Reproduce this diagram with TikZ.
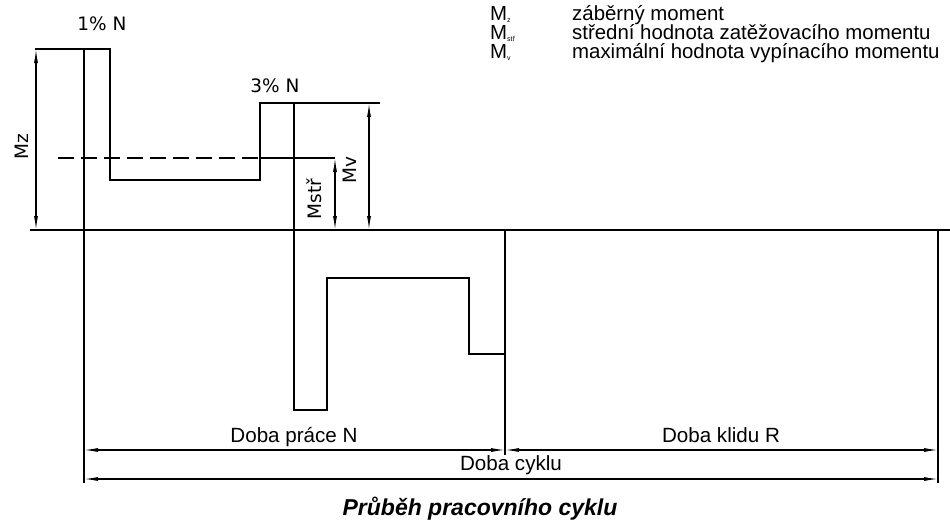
\documentclass[tikz,border=0pt]{standalone}
\usepackage{fontspec}
\setmainfont{Liberation Sans}
\newfontfamily\handfont{DejaVu Sans}
\usetikzlibrary{arrows.meta}

\newcommand{\msub}[1]{M\raisebox{-2pt}{\fontsize{7}{7}\selectfont #1}}

\begin{document}
\begin{tikzpicture}[x=1pt,y=-1pt,
  curve/.style={line width=2.7pt,line join=miter,line cap=rect},
  thinl/.style={line width=1.1pt},
  dim/.style={thinl,{Latex[length=14pt,width=4pt]}-{Latex[length=14pt,width=4pt]}},
  hand/.style={font=\fontsize{18.5}{18.5}\selectfont\handfont,inner sep=0pt},
  lbl/.style={font=\fontsize{20.6}{20.6}\selectfont,inner sep=0pt,anchor=base},
  legend/.style={font=\fontsize{20.4}{20.4}\selectfont,inner sep=0pt,anchor=base west}]
  \useasboundingbox (0,0) rectangle (950,520);

  % points of the cycle
  \coordinate (start) at (84,230);
  \coordinate (p1) at (84,49);
  \coordinate (p3) at (294,103);
  \coordinate (neg) at (294,410);
  \coordinate (stop) at (505,230);
  \coordinate (stopl) at (505,354);
  \coordinate (rest) at (938,230);

  % zero line and extension lines
  \draw[thinl] (30,230) -- (950,230);
  \draw[thinl] (35,49) -- (p1);
  \draw[thinl] (start) -- (84,483);
  \draw[thinl] (stopl) -- (505,455);
  \draw[thinl] (rest) -- (938,483);
  \draw[thinl] (p3) -- (380,103);
  \draw[thinl,dash pattern=on 16pt off 7pt] (58,158) -- (260,158);
  \draw[thinl] (260,158) -- (335,158);

  % load moment over the cycle
  \draw[curve] (start) -- (p1) -- (110,49) -- (110,180) -- (260,180)
    -- (260,103) -- (p3) -- (neg) -- (327,410) -- (327,278) -- (469,278)
    -- (469,354) -- (stopl) -- (stop);

  % dimensions
  \draw[dim] (36,49) -- (36,230);
  \draw[dim] (335,158) -- (335,230);
  \draw[dim] (369,103) -- (369,230);
  \draw[dim] (84,450) -- (505,450);
  \draw[dim] (505,450) -- (938,450);
  \draw[dim] (84,479) -- (938,479);

  \node[hand] (n1) at (102,24) {1\% N};
  \node[hand] (n3) at (275,86) {3\% N};
  \node[hand,rotate=90] (mz) at (22,147) {Mz};
  \node[hand,rotate=90] (mstr) at (314,199) {Mstř};
  \node[hand,rotate=90] (mv) at (350,170) {Mv};

  \node[lbl] (prace) at (294,442) {Doba práce N};
  \node[lbl] (klid) at (721,442) {Doba klidu R};
  \node[lbl] (cyklus) at (511,470) {Doba cyklu};
  \node[lbl,font=\fontsize{23}{23}\selectfont\bfseries\itshape] (title) at (480,515)
    {Průběh pracovního cyklu};

  % legend
  \node[legend] (lz) at (490,20) {\msub{z}};
  \node[legend] (ls) at (490,39) {\msub{stř}};
  \node[legend] (lv) at (490,58) {\msub{v}};
  \node[legend] (tz) at (572,20) {záběrný moment};
  \node[legend] (ts) at (572,39) {střední hodnota zatěžovacího momentu};
  \node[legend] (tv) at (572,58) {maximální hodnota vypínacího momentu};
\end{tikzpicture}
\end{document}
